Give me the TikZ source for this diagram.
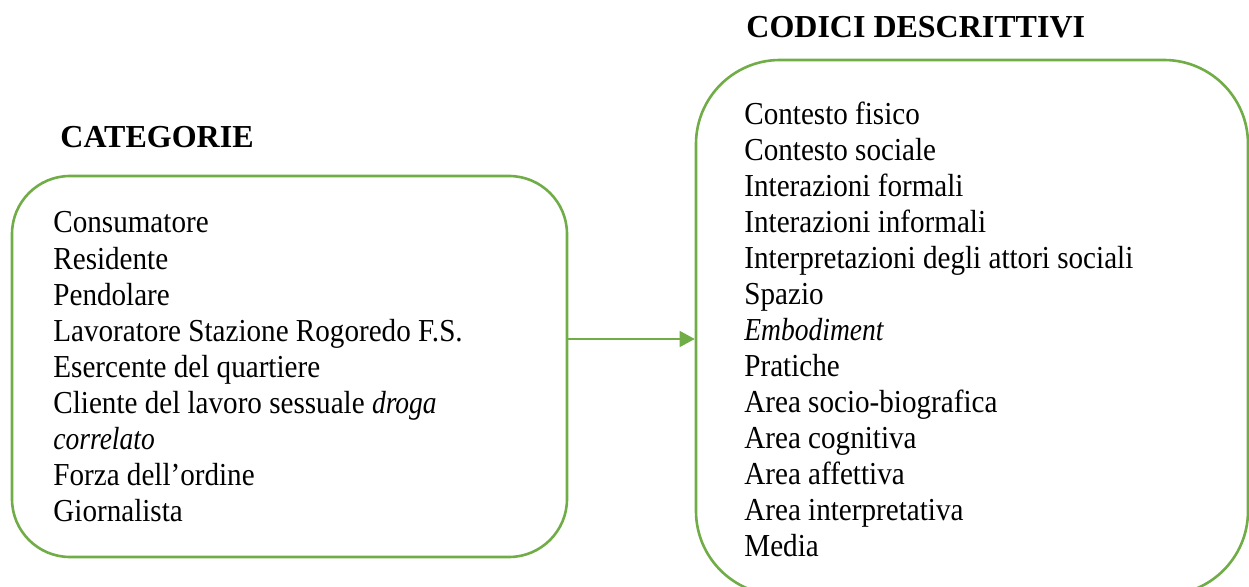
\documentclass[tikz,border=0pt]{standalone}
\usepackage{fontspec}
\setmainfont{Liberation Serif}
\newfontfamily\bodyfont{Liberation Serif}[FakeStretch=0.91]
\newfontfamily\bodyit{Liberation Serif Italic}[FakeStretch=0.86]
\newcommand{\itx}[1]{{\bodyit #1}}
\usetikzlibrary{arrows.meta}
\definecolor{boxgreen}{HTML}{70AD47}
\tikzset{
  roundbox/.style={draw=boxgreen, line width=1.3pt, rounded corners=#1, inner sep=0pt},
  item/.style={anchor=base west, inner sep=0pt, font=\fontsize{16}{18}\bodyfont},
  heading/.style={anchor=base west, inner sep=0pt, font=\fontsize{16}{18}\selectfont\bfseries},
  link/.style={draw=boxgreen, line width=0.7pt, -{Triangle[length=7.5pt,width=8pt]}}
}
\begin{document}
\begin{tikzpicture}[x=0.5pt,y=-0.5pt]
\useasboundingbox (0,0) rectangle (1249,587);
\node[roundbox=29pt, minimum width=277.5pt, minimum height=190.5pt] (lbox) at (289.5,366.5) {};
\node[roundbox=42pt, minimum width=276pt, minimum height=267.5pt] (rbox) at (972,327.5) {};
\node[heading] (lhead) at (60,148) {CATEGORIE};
\node[heading] (rhead) at (746,38) {CODICI DESCRITTIVI};
\foreach \t [count=\i from 0] in {Consumatore,Residente,Pendolare,Lavoratore Stazione Rogoredo F.S.,Esercente del quartiere,Cliente del lavoro sessuale \itx{droga},\itx{correlato},Forza dell’ordine,Giornalista}
  \node[item] (l\i) at (53,233+36.1*\i) {\t};
\foreach \t [count=\i from 0] in {Contesto fisico,Contesto sociale,Interazioni formali,Interazioni informali,Interpretazioni degli attori sociali,Spazio,\itx{Embodiment},Pratiche,Area socio-biografica,Area cognitiva,Area affettiva,Area interpretativa,Media}
  \node[item] (r\i) at (744,125+35.92*\i) {\t};
\coordinate (ay) at (0,339);
\draw[link] (lbox.east |- ay) -- (rbox.west |- ay);
\end{tikzpicture}
\end{document}
